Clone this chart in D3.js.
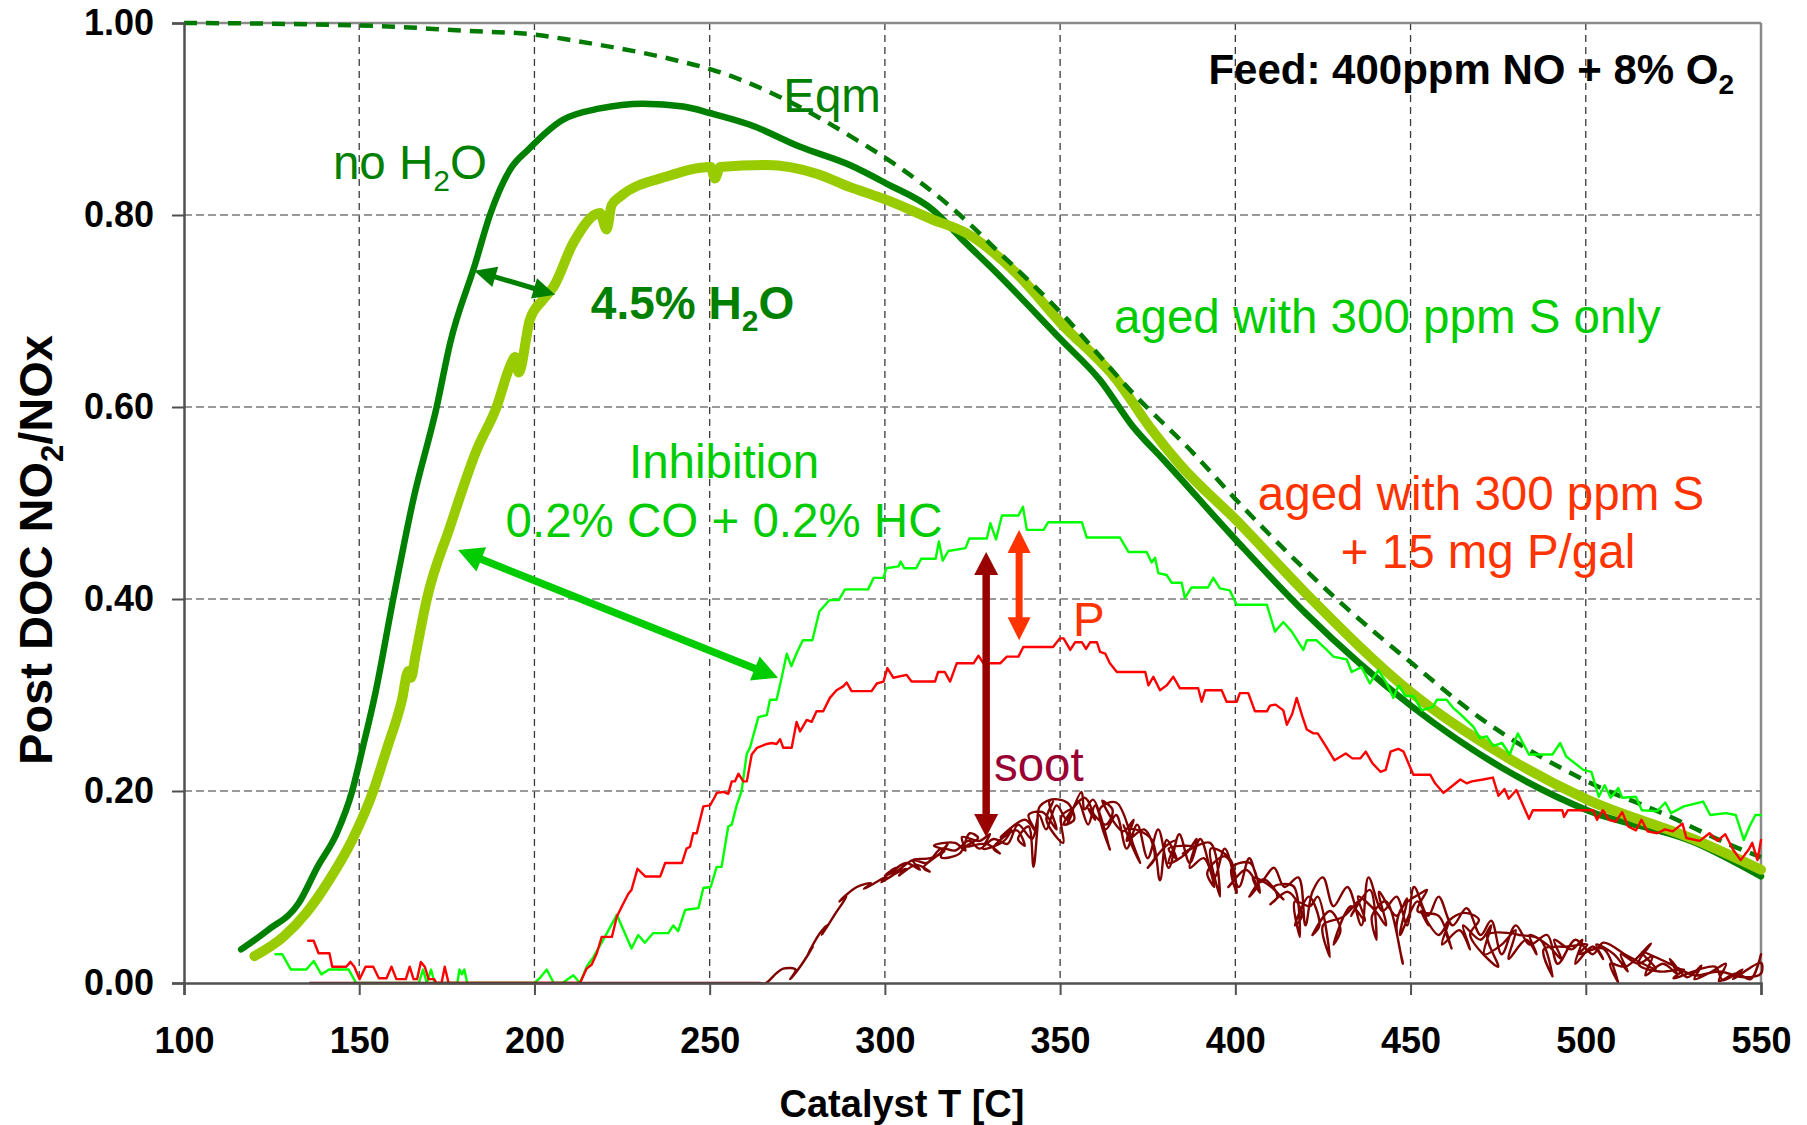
<!DOCTYPE html>
<html>
<head>
<meta charset="utf-8">
<script src="https://cdn.jsdelivr.net/npm/d3@7"></script>
<style>
  html, body { margin: 0; padding: 0; background: #ffffff; }
  svg { display: block; }
  text { font-family: "Liberation Sans", Arial, Helvetica, sans-serif; }
</style>
</head>
<body>
<svg id="chart" width="1807" height="1125"></svg>
<script>
// ---------- axis ticks ----------
const xTicks = [100, 150, 200, 250, 300, 350, 400, 450, 500, 550];
const yTicks = [0, 0.2, 0.4, 0.6, 0.8, 1.0];

// ---------- equilibrium NO2/NOx (dashed) ----------
const eqmT = [100, 130, 161, 179.6, 200, 210.7, 240.6, 251, 270, 292, 302.4, 318.6, 332.9, 350.3, 370.9, 388, 400.3, 431.3, 450.4, 469.5, 500.4, 523, 542.4, 550];
const eqmV = [1.000, 0.999, 0.996, 0.992, 0.988, 0.982, 0.961, 0.951, 0.923, 0.878, 0.854, 0.809, 0.760, 0.698, 0.614, 0.552, 0.503, 0.392, 0.333, 0.277, 0.210, 0.175, 0.142, 0.131];

// ---------- no H2O ----------
const dryT = [116.3, 123.9, 132.7, 138.1, 143.6, 148, 151, 154.5, 159.7, 165.4, 172.1, 175.9, 183.0, 187.3, 193, 198.2, 208, 218.7, 231, 242.5, 250.3, 261.5, 275.8, 290, 300.3, 313.8, 321.4, 332.9, 350.3, 361.4, 370.9, 379.5, 400.3, 420.1, 450.4, 475.7, 500.4, 531.3, 550];
const dryV = [0.035, 0.055, 0.083, 0.121, 0.156, 0.200, 0.245, 0.300, 0.400, 0.503, 0.600, 0.666, 0.748, 0.800, 0.847, 0.868, 0.899, 0.911, 0.916, 0.913, 0.906, 0.894, 0.871, 0.852, 0.833, 0.805, 0.777, 0.736, 0.670, 0.628, 0.579, 0.545, 0.461, 0.385, 0.288, 0.225, 0.180, 0.146, 0.111];

// ---------- 4.5% H2O ----------
const wetT = [120.1, 128.3, 134.9, 141.4, 148, 154, 157.8, 162.2, 164, 164.8, 166, 169.3, 175.9, 183.5, 189.2, 193, 194.5, 195.5, 198.7, 202.5, 205.4, 211.1, 218.7, 220.6, 222, 224.4, 237.7, 250.3, 251.5, 253, 266.3, 280.5, 290.1, 300.3, 313.8, 323.3, 337.6, 350.3, 366.2, 375.6, 384.2, 400.3, 420.1, 450.4, 475.7, 500.4, 531.3, 550];
const wetV = [0.028, 0.048, 0.073, 0.107, 0.149, 0.200, 0.243, 0.295, 0.325, 0.318, 0.340, 0.400, 0.475, 0.555, 0.600, 0.642, 0.652, 0.636, 0.691, 0.712, 0.725, 0.771, 0.802, 0.785, 0.810, 0.819, 0.840, 0.850, 0.838, 0.850, 0.852, 0.843, 0.829, 0.816, 0.795, 0.781, 0.739, 0.687, 0.628, 0.579, 0.540, 0.482, 0.406, 0.302, 0.239, 0.191, 0.149, 0.118];

// ---------- inhibition: 0.2% CO + 0.2% HC ----------
const inhT = [126.1, 128, 130.5, 134.9, 137, 139.2, 141.4, 147, 149.1, 167, 168.2, 169.3, 170.5, 171.5, 178, 178.6, 179.3, 180, 180.8, 200, 201.5, 203.5, 205.5, 208, 211.1, 213, 214.9, 216.8, 220.1, 223.5, 227.7, 229.6, 231.5, 233.9, 238.2, 239.6, 241, 243, 246.8, 248.2, 250.3, 252, 253.4, 255.3, 256.3, 257.7, 259.1, 260.6, 261.5, 263.9, 266.3, 267.2, 269.1, 270.6, 272, 273.3, 275, 276.6, 279.3, 281.3, 284.2, 286.9, 288.6, 295.2, 296.8, 299.6, 300.4, 303.9, 304.5, 305.6, 308.9, 310.4, 314.5, 315.4, 316.5, 318.1, 323, 324.1, 329.1, 330.1, 331.7, 333.4, 338.1, 339.4, 340.5, 345.3, 346.6, 356.2, 357.6, 367.1, 369.5, 374.7, 376.1, 377.1, 378, 380.4, 381.8, 384.7, 385.6, 387.5, 392.2, 393.7, 395.6, 398.4, 400.4, 409, 411.3, 413.7, 416.1, 419.4, 420.4, 423.2, 426.1, 428, 431.8, 433.2, 436, 438.4, 440.8, 443.2, 445.1, 446.6, 448.5, 450.8, 453.2, 456.5, 457.5, 460.3, 462.3, 464.2, 467.9, 469.8, 471.7, 473.6, 476.1, 478.3, 480.6, 483.8, 490.5, 492.7, 494.4, 499.3, 501.6, 503.7, 505.4, 507.1, 509.3, 510.4, 514.3, 516, 520.4, 522.7, 524.3, 528, 533.5, 535.5, 540, 542.8, 545.1, 546.7, 548.4, 550];
const inhV = [0.030, 0.030, 0.014, 0.014, 0.023, 0.009, 0.014, 0.014, 0.000, 0.000, 0.014, 0.000, 0.014, 0.000, 0.000, 0.014, 0.009, 0.014, 0.000, 0.000, 0.005, 0.014, 0.000, 0.000, 0.008, 0.000, 0.017, 0.027, 0.048, 0.071, 0.036, 0.050, 0.042, 0.052, 0.052, 0.060, 0.054, 0.076, 0.078, 0.099, 0.100, 0.121, 0.121, 0.163, 0.165, 0.185, 0.200, 0.239, 0.245, 0.277, 0.279, 0.295, 0.295, 0.319, 0.343, 0.330, 0.345, 0.357, 0.357, 0.387, 0.399, 0.399, 0.410, 0.410, 0.422, 0.422, 0.432, 0.434, 0.439, 0.432, 0.432, 0.442, 0.442, 0.460, 0.440, 0.450, 0.453, 0.463, 0.463, 0.479, 0.462, 0.487, 0.487, 0.496, 0.472, 0.472, 0.480, 0.480, 0.464, 0.464, 0.449, 0.449, 0.438, 0.443, 0.427, 0.425, 0.417, 0.417, 0.401, 0.412, 0.412, 0.422, 0.411, 0.409, 0.394, 0.394, 0.366, 0.376, 0.366, 0.347, 0.357, 0.357, 0.347, 0.340, 0.337, 0.324, 0.329, 0.312, 0.326, 0.312, 0.297, 0.310, 0.299, 0.299, 0.284, 0.288, 0.295, 0.295, 0.286, 0.280, 0.267, 0.255, 0.257, 0.247, 0.250, 0.238, 0.260, 0.238, 0.238, 0.250, 0.236, 0.222, 0.220, 0.194, 0.206, 0.193, 0.203, 0.193, 0.194, 0.180, 0.179, 0.188, 0.177, 0.184, 0.189, 0.175, 0.177, 0.175, 0.149, 0.163, 0.175, 0.175];

// ---------- aged with 300 ppm S + 15 mg P/gal ----------
const phosT = [135.4, 137, 138.4, 141.5, 142.3, 146.3, 147.5, 148.6, 150.1, 151.8, 154, 155.6, 157.8, 159.2, 160.6, 163.3, 164.4, 165.5, 166.5, 167.6, 168.7, 169.8, 171.4, 172, 173.5, 174.4, 175.5, 213, 214.9, 216.3, 217.8, 219.2, 222.1, 223.5, 225.4, 226.8, 227.7, 229.4, 231.6, 235.9, 237.3, 242.1, 243.4, 244.4, 245.3, 246.3, 248.2, 250.1, 251.5, 252, 253.9, 255.3, 256.3, 257.2, 258.2, 259.6, 260.6, 262, 263.5, 266.3, 267.7, 269.1, 270.1, 271, 273.4, 274.8, 275.8, 277.7, 279.1, 280.5, 282.4, 284.3, 286.2, 288.1, 289.1, 290.5, 296.2, 297.7, 299.6, 300.7, 302.4, 306.2, 307.6, 314.3, 315.2, 317.1, 318.6, 320.5, 325.3, 326.7, 328.1, 332.9, 334.8, 338.1, 339.5, 348, 349.9, 351, 352.9, 354.3, 356.2, 357.4, 358.6, 360.5, 361.4, 362.9, 364.2, 366.2, 374.3, 375.2, 376.6, 378.5, 380.4, 382.3, 384.2, 389.4, 390.4, 391.4, 396.1, 397.5, 400.4, 401.3, 403.7, 405.6, 409, 409.9, 411.5, 413.7, 414.7, 416.2, 417.5, 419.1, 420.4, 422.3, 423.5, 425.6, 428.3, 431.5, 433.4, 435.7, 437.2, 439.1, 441.4, 442.9, 444.3, 446.5, 448, 449.4, 450.8, 455.6, 457, 459.4, 461.8, 464.2, 466, 467.5, 470.7, 473.5, 475.1, 476.8, 478, 480.2, 483.8, 484.9, 493.3, 493.8, 494.9, 502.1, 503.2, 504.9, 506.6, 508.5, 510.4, 512.1, 514.3, 515.9, 517.6, 520.4, 522.6, 524.8, 527.6, 528.7, 532.5, 535.3, 537.6, 539.8, 542, 544.2, 546.5, 547.5, 549, 550];
const phosV = [0.044, 0.044, 0.031, 0.031, 0.017, 0.017, 0.022, 0.017, 0.004, 0.017, 0.017, 0.005, 0.005, 0.017, 0.004, 0.004, 0.017, 0.004, 0.004, 0.022, 0.017, 0.004, 0.004, 0.000, 0.000, 0.017, 0.000, 0.000, 0.015, 0.019, 0.031, 0.048, 0.048, 0.069, 0.083, 0.093, 0.097, 0.119, 0.111, 0.111, 0.125, 0.125, 0.140, 0.142, 0.156, 0.156, 0.184, 0.185, 0.194, 0.198, 0.199, 0.197, 0.210, 0.210, 0.218, 0.210, 0.210, 0.238, 0.245, 0.249, 0.250, 0.249, 0.254, 0.245, 0.245, 0.272, 0.262, 0.274, 0.272, 0.283, 0.283, 0.297, 0.305, 0.309, 0.313, 0.304, 0.304, 0.312, 0.314, 0.328, 0.318, 0.321, 0.314, 0.314, 0.324, 0.324, 0.314, 0.333, 0.333, 0.341, 0.333, 0.333, 0.340, 0.340, 0.350, 0.350, 0.359, 0.359, 0.347, 0.355, 0.355, 0.348, 0.355, 0.355, 0.345, 0.343, 0.333, 0.324, 0.324, 0.310, 0.319, 0.305, 0.310, 0.319, 0.307, 0.307, 0.293, 0.305, 0.305, 0.293, 0.293, 0.302, 0.302, 0.283, 0.283, 0.289, 0.290, 0.284, 0.269, 0.280, 0.297, 0.278, 0.264, 0.260, 0.260, 0.248, 0.232, 0.239, 0.234, 0.234, 0.241, 0.229, 0.220, 0.222, 0.241, 0.244, 0.241, 0.229, 0.217, 0.217, 0.208, 0.198, 0.205, 0.212, 0.208, 0.210, 0.212, 0.214, 0.195, 0.202, 0.192, 0.201, 0.171, 0.180, 0.180, 0.173, 0.180, 0.180, 0.170, 0.180, 0.170, 0.168, 0.178, 0.163, 0.159, 0.170, 0.158, 0.156, 0.160, 0.158, 0.166, 0.151, 0.148, 0.156, 0.148, 0.155, 0.139, 0.128, 0.139, 0.146, 0.128, 0.149];

// ---------- soot-loaded: repeated heating / cooling passes ----------
const sootT = [136, 150, 165, 180, 195, 210, 225, 240, 252, 260, 264, 266, 269, 271, 274.5, 273, 276, 279.5, 278, 281.5, 283.5, 282, 286, 289, 287, 292, 296, 294, 298, 300.5, 299, 303.5, 306, 304, 309, 312.8, 311, 315.7, 318, 316, 321.4, 324.2, 326.6, 323, 329, 332.8, 331, 337.6, 339.9, 338, 341, 342.4, 343.5, 344.2, 348, 346.1, 350.9, 350.4, 353.7, 352, 356.1, 357, 359.4, 364.2, 361.3, 366, 370.9, 368, 372.8, 370, 376, 378.5, 380.4, 383.3, 381, 388, 385, 392.8, 395.6, 393, 398.5, 400.4, 399, 404.2, 407, 405, 409.9, 413.7, 411, 416.5, 418.4, 417, 421.3, 423.5, 427, 425, 430.8, 435.5, 433, 438.4, 440.3, 439, 443, 447.8, 446, 447.8, 453.1, 454.7, 452, 458, 461.7, 460, 465.1, 469.5, 467, 475, 472, 478.4, 481, 487.1, 490.5, 488, 494.9, 500.4, 498, 504.9, 509.2, 507, 511.4, 518.6, 515, 521, 528, 525, 536.9, 539.1, 544.7, 542, 550,
  550, 545, 538, 531, 524, 516, 520, 512, 505, 502, 497, 492, 489, 484, 480, 476, 473, 470, 466, 462, 458, 455, 451, 449, 446, 442, 438, 436, 432, 428, 425, 422, 420, 418, 414, 411, 407, 404, 401, 397, 394, 390, 387, 384, 381, 378, 375, 372, 369, 366, 363, 360, 358, 355, 352, 349, 346, 344, 342, 338, 335, 331, 327, 324, 320, 316, 312, 308, 304, 300,
  303, 301, 306, 310, 308, 313, 317, 314, 320, 323, 322, 327, 330, 328, 334, 336, 333, 340, 343, 341, 345, 349, 347, 352, 354, 351, 357, 360, 358, 363, 365, 362, 368, 371, 369, 374, 377, 375, 380, 383, 381, 386, 389, 387, 391, 394, 392, 397, 400, 398, 403, 406, 404, 408, 412, 410, 415, 419, 417, 421, 424, 422, 427, 430, 428, 433, 437, 435, 440, 443, 441, 446, 449, 447, 452, 455, 453, 458, 461, 459, 464, 467, 465, 470, 473, 471, 476, 480, 478, 483, 486, 484, 489, 493, 491, 496, 499, 497, 502, 505, 503, 508, 512, 510, 515, 519, 517, 522, 526, 524, 529, 533, 531, 536, 540, 538, 543, 547, 550];
const sootV = [0.000, 0.000, 0.000, 0.000, 0.000, 0.000, 0.000, 0.000, 0.000, 0.000, 0.000, 0.000, 0.010, 0.015, 0.014, 0.004, 0.018, 0.038, 0.030, 0.052, 0.060, 0.050, 0.073, 0.090, 0.085, 0.100, 0.104, 0.098, 0.106, 0.111, 0.105, 0.115, 0.119, 0.112, 0.123, 0.116, 0.120, 0.135, 0.145, 0.131, 0.135, 0.156, 0.151, 0.142, 0.145, 0.135, 0.140, 0.159, 0.143, 0.150, 0.163, 0.121, 0.160, 0.184, 0.191, 0.170, 0.146, 0.174, 0.181, 0.165, 0.199, 0.181, 0.191, 0.139, 0.181, 0.188, 0.142, 0.165, 0.125, 0.160, 0.150, 0.107, 0.149, 0.129, 0.140, 0.142, 0.135, 0.146, 0.090, 0.140, 0.129, 0.094, 0.120, 0.125, 0.094, 0.110, 0.101, 0.087, 0.100, 0.101, 0.048, 0.085, 0.080, 0.090, 0.027, 0.060, 0.069, 0.087, 0.070, 0.097, 0.045, 0.070, 0.085, 0.020, 0.060, 0.080, 0.094, 0.097, 0.075, 0.070, 0.036, 0.060, 0.073, 0.066, 0.050, 0.017, 0.050, 0.052, 0.050, 0.045, 0.007, 0.035, 0.038, 0.040, 0.030, 0.036, 0.001, 0.020, 0.017, 0.041, 0.020, 0.012, 0.014, 0.005, 0.017, 0.003, 0.014, 0.004, 0.021,
  0.010, 0.006, 0.012, 0.008, 0.020, 0.032, 0.015, 0.028, 0.042, 0.030, 0.045, 0.020, 0.050, 0.040, 0.060, 0.030, 0.065, 0.050, 0.078, 0.060, 0.090, 0.070, 0.100, 0.060, 0.090, 0.075, 0.110, 0.060, 0.100, 0.080, 0.110, 0.095, 0.060, 0.110, 0.100, 0.120, 0.105, 0.130, 0.100, 0.140, 0.110, 0.150, 0.125, 0.155, 0.120, 0.160, 0.130, 0.165, 0.140, 0.175, 0.160, 0.185, 0.165, 0.190, 0.170, 0.185, 0.160, 0.175, 0.150, 0.165, 0.145, 0.150, 0.140, 0.148, 0.138, 0.140, 0.125, 0.128, 0.118, 0.112,
  0.120, 0.113, 0.125, 0.118, 0.128, 0.130, 0.138, 0.143, 0.146, 0.138, 0.152, 0.148, 0.155, 0.140, 0.148, 0.160, 0.152, 0.170, 0.158, 0.175, 0.178, 0.160, 0.190, 0.188, 0.170, 0.165, 0.193, 0.170, 0.182, 0.165, 0.180, 0.190, 0.158, 0.170, 0.148, 0.160, 0.130, 0.120, 0.142, 0.148, 0.125, 0.135, 0.150, 0.120, 0.130, 0.100, 0.115, 0.132, 0.110, 0.100, 0.118, 0.100, 0.090, 0.108, 0.090, 0.082, 0.095, 0.070, 0.060, 0.090, 0.060, 0.050, 0.075, 0.055, 0.040, 0.080, 0.065, 0.090, 0.075, 0.060, 0.095, 0.070, 0.088, 0.050, 0.085, 0.060, 0.075, 0.050, 0.065, 0.040, 0.055, 0.035, 0.060, 0.045, 0.060, 0.030, 0.040, 0.055, 0.025, 0.045, 0.030, 0.050, 0.040, 0.025, 0.045, 0.035, 0.045, 0.020, 0.038, 0.025, 0.040, 0.030, 0.012, 0.030, 0.020, 0.028, 0.008, 0.020, 0.010, 0.025, 0.006, 0.018, 0.004, 0.012, 0.020, 0.002, 0.010, 0.004, 0.030];

// ---------- layout ----------
const plot = { left: 184, right: 1761, top: 23, bottom: 983 };
const FONT = '"Liberation Sans", Arial, Helvetica, sans-serif';

const svg = d3.select("#chart");
const x = d3.scaleLinear().domain([100, 550]).range([plot.left, plot.right]);
const y = d3.scaleLinear().domain([0, 1]).range([plot.bottom, plot.top]);

// grid
const grid = svg.append("g");
grid.selectAll("line.v").data(xTicks.filter(t => t > 100 && t < 550)).join("line")
  .attr("x1", d => x(d)).attr("x2", d => x(d))
  .attr("y1", plot.top).attr("y2", plot.bottom)
  .attr("stroke", "#3a3a3a").attr("stroke-width", 1.3).attr("stroke-dasharray", "7,5");
grid.selectAll("line.h").data(yTicks.filter(t => t > 0 && t < 1)).join("line")
  .attr("x1", plot.left).attr("x2", plot.right)
  .attr("y1", d => y(d)).attr("y2", d => y(d))
  .attr("stroke", "#7a7a7a").attr("stroke-width", 1.6).attr("stroke-dasharray", "8,4");

// frame (top and right)
svg.append("line").attr("x1", plot.left).attr("x2", plot.right).attr("y1", plot.top).attr("y2", plot.top)
  .attr("stroke", "#8a8a8a").attr("stroke-width", 2.5);
svg.append("line").attr("x1", plot.right).attr("x2", plot.right).attr("y1", plot.top).attr("y2", plot.bottom)
  .attr("stroke", "#8a8a8a").attr("stroke-width", 2.5);

// series helpers
const zip = (ts, vs) => ts.map((t, i) => [t, vs[i]]);
const lineGen = curve => d3.line().x(d => x(d[0])).y(d => y(Math.max(0, d[1]))).curve(curve);

const series = svg.append("g").attr("fill", "none").attr("stroke-linejoin", "round").attr("stroke-linecap", "round");

series.append("path").attr("d", lineGen(d3.curveMonotoneX)(zip(dryT, dryV)))
  .attr("stroke", "#008000").attr("stroke-width", 6.5);
series.append("path").attr("d", lineGen(d3.curveMonotoneX)(zip(wetT, wetV)))
  .attr("stroke", "#99cc00").attr("stroke-width", 10);
series.append("path").attr("d", lineGen(d3.curveMonotoneX)(zip(eqmT, eqmV)))
  .attr("stroke", "#007a00").attr("stroke-width", 4.5).attr("stroke-dasharray", "13,9")
  .attr("stroke-linecap", "butt");
series.append("path").attr("d", lineGen(d3.curveLinear)(zip(inhT, inhV)))
  .attr("stroke", "#00ff00").attr("stroke-width", 2.4);
series.append("path").attr("d", lineGen(d3.curveLinear)(zip(phosT, phosV)))
  .attr("stroke", "#ff0000").attr("stroke-width", 2.4);
series.append("path").attr("d", lineGen(d3.curveCatmullRom.alpha(0.5))(zip(sootT, sootV)))
  .attr("stroke", "#800000").attr("stroke-width", 2.4);

// axes
const xAxis = svg.append("g").attr("transform", `translate(0,${plot.bottom})`)
  .call(d3.axisBottom(x).tickValues(xTicks).tickSize(12).tickPadding(32).tickFormat(d3.format("d")));
const yAxis = svg.append("g").attr("transform", `translate(${plot.left},0)`)
  .call(d3.axisLeft(y).tickValues(yTicks).tickSize(12).tickPadding(18).tickFormat(d3.format(".2f")));
[xAxis, yAxis].forEach(g => {
  g.select(".domain").attr("stroke", "#505050").attr("stroke-width", 2.5);
  g.selectAll(".tick line").attr("stroke", "#505050").attr("stroke-width", 2);
  g.selectAll(".tick text").attr("fill", "#000").attr("font-family", FONT)
    .attr("font-size", 36).attr("font-weight", "bold");
});

// rich text with subscripts
function rich(parent, parts, subSize, shift) {
  let prevSub = false;
  parts.forEach(p => {
    const ts = parent.append("tspan").text(p.t);
    if (p.sub) { ts.attr("font-size", subSize).attr("dy", shift); prevSub = true; }
    else if (prevSub) { ts.attr("dy", -shift); prevSub = false; }
  });
}

// axis titles
svg.append("text").attr("x", 902).attr("y", 1117).attr("text-anchor", "middle")
  .attr("font-size", 38).attr("font-weight", "bold").attr("fill", "#000").text("Catalyst T [C]");
const yt = svg.append("text").attr("transform", "translate(52,550) rotate(-90)").attr("text-anchor", "middle")
  .attr("font-size", 47).attr("font-weight", "bold").attr("fill", "#000");
rich(yt, [{ t: "Post DOC NO" }, { t: "2", sub: true }, { t: "/NOx" }], 31, 11);

// annotations placed in data coordinates
const notes = [
  { parts: [{ t: "no H" }, { t: "2", sub: true }, { t: "O" }], T: 142.5, v: 0.838, anchor: "start", color: "#008000", bold: false },
  { parts: [{ t: "Eqm" }], T: 271.0, v: 0.907, anchor: "start", color: "#008000", bold: false },
  { parts: [{ t: "4.5% H" }, { t: "2", sub: true }, { t: "O" }], T: 216.1, v: 0.692, anchor: "start", color: "#008000", bold: true },
  { parts: [{ t: "aged with 300 ppm S only" }], T: 365.4, v: 0.677, anchor: "start", color: "#00cc00", bold: false },
  { parts: [{ t: "Inhibition" }], T: 254.1, v: 0.526, anchor: "middle", color: "#00cc00", bold: false },
  { parts: [{ t: "0.2% CO + 0.2% HC" }], T: 254.1, v: 0.465, anchor: "middle", color: "#00cc00", bold: false },
  { parts: [{ t: "aged with 300 ppm S" }], T: 470.1, v: 0.493, anchor: "middle", color: "#ff3300", bold: false },
  { parts: [{ t: "+ 15 mg P/gal" }], T: 472.1, v: 0.432, anchor: "middle", color: "#ff3300", bold: false },
  { parts: [{ t: "P" }], T: 353.7, v: 0.361, anchor: "start", color: "#ff3300", bold: false },
  { parts: [{ t: "soot" }], T: 331.1, v: 0.210, anchor: "start", color: "#990033", bold: false }
];
notes.forEach(n => {
  const size = n.bold ? 46 : 47.5;
  const t = svg.append("text").attr("x", x(n.T)).attr("y", y(n.v)).attr("text-anchor", n.anchor)
    .attr("font-size", size).attr("font-weight", n.bold ? "bold" : "normal").attr("fill", n.color);
  rich(t, n.parts, 30, 12);
});

// feed composition
const feed = svg.append("text").attr("x", x(542.3)).attr("y", y(0.9365)).attr("text-anchor", "end")
  .attr("font-size", 42).attr("font-weight", "bold").attr("fill", "#000");
rich(feed, [{ t: "Feed: 400ppm NO + 8% O" }, { t: "2", sub: true }], 28, 10);

// double-headed arrows
const arrows = [
  { from: [182.8, 0.742], to: [205.9, 0.717], color: "#008000", w: 5, hl: 22, hw: 21 },
  { from: [178.2, 0.451], to: [269.5, 0.318], color: "#00cc00", w: 7.5, hl: 25, hw: 26 },
  { from: [338.3, 0.472], to: [338.3, 0.357], color: "#ff3300", w: 7, hl: 23, hw: 23 },
  { from: [328.9, 0.449], to: [328.9, 0.152], color: "#990000", w: 7.5, hl: 23, hw: 24 }
];
const ag = svg.append("g");
arrows.forEach(a => {
  const x1 = x(a.from[0]), y1 = y(a.from[1]), x2 = x(a.to[0]), y2 = y(a.to[1]);
  const len = Math.hypot(x2 - x1, y2 - y1);
  const ux = (x2 - x1) / len, uy = (y2 - y1) / len, px = -uy, py = ux;
  ag.append("line")
    .attr("x1", x1 + ux * (a.hl - 2)).attr("y1", y1 + uy * (a.hl - 2))
    .attr("x2", x2 - ux * (a.hl - 2)).attr("y2", y2 - uy * (a.hl - 2))
    .attr("stroke", a.color).attr("stroke-width", a.w);
  const head = (tx, ty, dx, dy) => {
    const bx = tx - dx * a.hl, by = ty - dy * a.hl;
    return `M${tx},${ty}L${bx + px * a.hw / 2},${by + py * a.hw / 2}L${bx - px * a.hw / 2},${by - py * a.hw / 2}Z`;
  };
  ag.append("path").attr("d", head(x2, y2, ux, uy)).attr("fill", a.color);
  ag.append("path").attr("d", head(x1, y1, -ux, -uy)).attr("fill", a.color);
});
</script>
</body>
</html>
